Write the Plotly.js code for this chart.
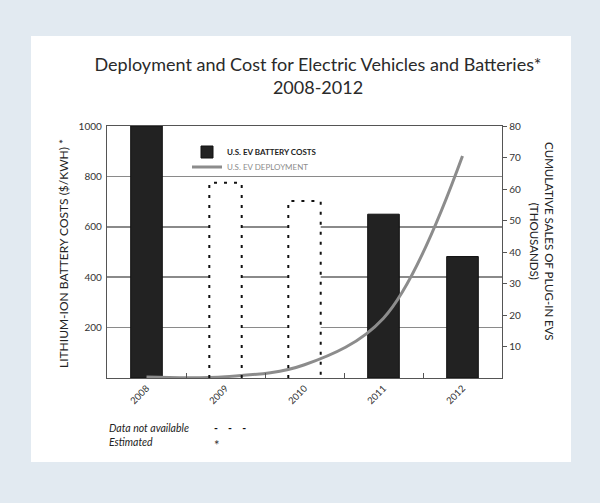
<!DOCTYPE html>
<html>
<head>
<meta charset="utf-8">
<script src="https://cdn.plot.ly/plotly-3.0.1.min.js"></script>
<style>html,body{margin:0;padding:0;background:#e2eaf1;}#chart{width:600px;height:503px;}</style>
</head>
<body>
<div id="chart"></div>
<script>
// ---- data ----
var years = ['2008', '2009', '2010', '2011', '2012'];
var batteryCosts = [1000, null, null, 650, 482];          // $/kWh, known values
var estimatedCosts = [null, 775, 702, null, null];         // data not available (dotted)
var evDeployment = [0.3, 0.4, 4.2, 19, 70.5];              // cumulative sales, thousands
var leftTicks = [200, 400, 600, 800, 1000];
var rightTicks = [10, 20, 30, 40, 50, 60, 70, 80];

// ---- build dotted outlines from the estimated values ----
var dotW = 0.41;
var outX = [], outY = [];
estimatedCosts.forEach(function (v, i) {
  if (v === null) return;
  outX.push(i - dotW / 2, i - dotW / 2, i + dotW / 2, i + dotW / 2, null);
  outY.push(0, v, v, 0, null);
});

var FONT = 'Lato, "Open Sans", sans-serif';

var traces = [
  {
    type: 'bar', x: years, y: estimatedCosts, width: dotW,
    marker: { color: '#ffffff', line: { width: 0 } },
    showlegend: false, hoverinfo: 'skip'
  },
  {
    type: 'scatter', mode: 'lines', x: outX, y: outY, xaxis: 'x2', yaxis: 'y',
    line: { color: '#111111', width: 2, dash: '3px,7px' },
    showlegend: false, hoverinfo: 'skip', connectgaps: false
  },
  {
    type: 'bar', x: years, y: batteryCosts, width: 0.4,
    name: '<b>U.S. EV BATTERY COSTS</b>', legend: 'legend',
    marker: { color: '#222222', line: { color: '#111111', width: 1 } }
  },
  {
    type: 'scatter', mode: 'lines', x: years, y: evDeployment, yaxis: 'y2',
    name: '<span style="color:#8c8c8c">U.S. EV DEPLOYMENT</span>', legend: 'legend2',
    line: { color: '#8c8c8c', width: 3, shape: 'spline', smoothing: 1 }
  }
];

var legendFont = { size: 8, family: FONT, color: '#222222' };

var layout = {
  width: 600, height: 503,
  margin: { l: 107, r: 98, t: 126, b: 125 },
  paper_bgcolor: '#e2eaf1',
  plot_bgcolor: '#ffffff',
  font: { family: FONT, color: '#222222', size: 10 },
  barmode: 'overlay',
  title: {
    text: 'Deployment and Cost for Electric Vehicles and Batteries*<br>2008-2012',
    x: 0.53, xanchor: 'center', xref: 'container',
    y: 1 - 71 / 503, yanchor: 'top', yref: 'container',
    font: { family: FONT, size: 18, color: '#2a2a2a' }
  },
  xaxis: {
    type: 'category', categoryorder: 'array', categoryarray: years,
    range: [-0.5, 4.5], tickson: 'boundaries', ticks: 'inside', ticklen: 5,
    tickcolor: '#555555', tickwidth: 1, tickangle: -45,
    showline: true, linecolor: '#555555', linewidth: 1.2, mirror: true,
    showgrid: false, tickfont: { size: 9.5, color: '#333333' }, fixedrange: true
  },
  xaxis2: {
    type: 'linear', range: [-0.5, 4.5], overlaying: 'x', visible: false, fixedrange: true
  },
  yaxis: {
    range: [0, 1000], tickvals: leftTicks, ticks: '', showline: true,
    linecolor: '#555555', linewidth: 1.2, mirror: true,
    showgrid: true, gridcolor: '#8a8a8a', gridwidth: 1.5, zeroline: false,
    tickfont: { size: 10, color: '#333333' }, ticklabelstandoff: 2, fixedrange: true
  },
  yaxis2: {
    range: [0, 80], overlaying: 'y', side: 'right', tickvals: rightTicks,
    ticks: 'outside', ticklen: 4, tickcolor: '#555555', showline: true,
    linecolor: '#555555', linewidth: 1.2, showgrid: false, zeroline: false,
    tickfont: { size: 10, color: '#333333' }, fixedrange: true
  },
  legend: {
    x: (187 - 107) / 395, y: (378 - 152) / 252, xanchor: 'left', yanchor: 'middle',
    bgcolor: 'rgba(0,0,0,0)', font: legendFont, itemwidth: 30
  },
  legend2: {
    x: (187 - 107) / 395, y: (378 - 167) / 252, xanchor: 'left', yanchor: 'middle',
    bgcolor: 'rgba(0,0,0,0)', font: legendFont, itemwidth: 30
  },
  shapes: [
    {
      type: 'rect', xref: 'paper', yref: 'paper', layer: 'below',
      x0: (31 - 107) / 395, x1: (571 - 107) / 395,
      y0: (378 - 462) / 252, y1: (378 - 36) / 252,
      fillcolor: '#ffffff', line: { width: 0 }
    }
  ],
  annotations: [
    {
      text: 'LITHIUM-ION BATTERY COSTS ($/KWH) *', textangle: -90,
      xref: 'paper', yref: 'paper', x: (63 - 107) / 395, y: (378 - 254) / 252,
      xanchor: 'center', yanchor: 'middle',
      showarrow: false, font: { size: 12, color: '#222222' }
    },
    {
      text: 'CUMULATIVE SALES OF PLUG-IN EVS<br>(THOUSANDS)', textangle: 90,
      xref: 'paper', yref: 'paper', x: (542 - 107) / 395, y: (378 - 241) / 252,
      xanchor: 'center', yanchor: 'middle',
      showarrow: false, font: { size: 11.5, color: '#222222' }
    },
    {
      text: '<i>Data not available</i>', xref: 'paper', yref: 'paper',
      x: 0, y: (378 - 428) / 252, xanchor: 'left', yanchor: 'middle',
      showarrow: false, font: { size: 10.5, color: '#222222' }
    },
    {
      text: '<b>-    -    -</b>', xref: 'paper', yref: 'paper',
      x: (212 - 107) / 395, y: (378 - 428) / 252, xanchor: 'left', yanchor: 'middle',
      showarrow: false, font: { size: 10.5, color: '#111111' }
    },
    {
      text: '<i>Estimated</i>', xref: 'paper', yref: 'paper',
      x: 0, y: (378 - 442) / 252, xanchor: 'left', yanchor: 'middle',
      showarrow: false, font: { size: 10.5, color: '#222222' }
    },
    {
      text: '*', xref: 'paper', yref: 'paper',
      x: (212 - 107) / 395, y: (378 - 445) / 252, xanchor: 'left', yanchor: 'middle',
      showarrow: false, font: { size: 13, color: '#333333' }
    }
  ]
};

Plotly.newPlot('chart', traces, layout, { displayModeBar: false, staticPlot: true });
</script>
</body>
</html>
